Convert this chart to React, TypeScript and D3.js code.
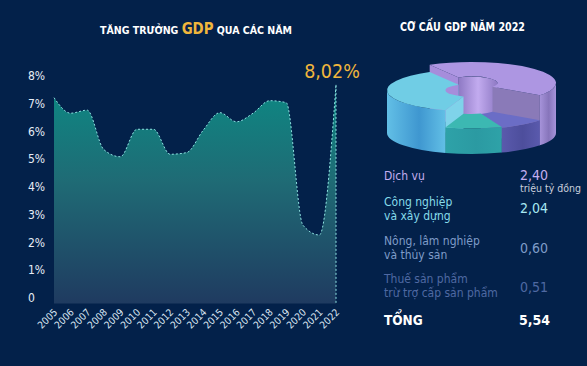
import React from "react";
import * as d3 from "d3";

// GDP growth by year (%)
const years = ["2005", "2006", "2007", "2008", "2009", "2010", "2011", "2012", "2013",
  "2014", "2015", "2016", "2017", "2018", "2019", "2020", "2021", "2022"];
const growth = [7.22, 6.66, 6.77, 5.35, 5.09, 6.08, 6.08, 5.18, 5.24,
  6.05, 6.68, 6.35, 6.66, 7.11, 7.04, 2.63, 2.27, 7.68];
const yTicks = [0, 1, 2, 3, 4, 5, 6, 7, 8];
const lastLabel = "8,02%";

// GDP structure 2022 (triệu tỷ đồng)
const sectorLabels = [
  ["Dịch vụ"],
  ["Công nghiệp", "và xây dựng"],
  ["Nông, lâm nghiệp", "và thủy sản"],
  ["Thuế sản phẩm", "trừ trợ cấp sản phẩm"],
];
const sectorValues = [2.40, 2.04, 0.60, 0.51];
const totalValue = 5.54;

const W = 587, H = 366;
const COND = "'Liberation Sans Narrow','DejaVu Sans Condensed','Roboto Condensed',sans-serif";
const BG = "#03214a";
const GOLD = "#f0b63c";

const vn = d3.formatLocale({ decimal: ",", thousands: ".", grouping: [3], currency: ["", ""] });
const fmt2 = vn.format(".2f");

// slice styles, in the same order as the sectors
const sliceStyle = [
  { top: "#ad96e2", sideA: "#a693da", sideB: "#8775bb", start: "#a68ddb", end: "#8a7ab8", inner: ["#c2abef", "#8e79c4"], text: "#c4aef0", value: "#c4aef0" },
  { top: "#70cde5", sideA: "#62bfe6", sideB: "#3f97d0", start: "#7fd3ea", end: "#5cb5dc", inner: ["#8ad9ee", "#5fb9df"], text: "#86dcea", value: "#a8e8f2" },
  { top: "#3cb8b2", sideA: "#2ea2a8", sideB: "#2b9aa2", start: "#34aaaa", end: "#2a9a9e", inner: ["#3cb8b2", "#2b9aa2"], text: "#7f9cc8", value: "#7f9cc8" },
  { top: "#6b6dc6", sideA: "#5a5aad", sideB: "#4d4e9c", start: "#5e60b4", end: "#56579f", inner: ["#6b6dc6", "#4d4e9c"], text: "#4f69a2", value: "#4f69a2" },
];

// pie geometry
const CX = 471.5, RX = 84.5, RY = 21, BASE = 133, RI = 26;
const K = RY / RX;
const P = (a: number, r: number, y: number) => `${(CX + r * Math.cos(a)).toFixed(2)},${(y + r * K * Math.sin(a)).toFixed(2)}`;
const TAU = Math.PI * 2;

function clip(lo: number, hi: number, A: number, B: number) {
  const out: [number, number][] = [];
  for (let k = -2; k <= 2; k++) {
    const s = Math.max(lo + TAU * k, A), e = Math.min(hi + TAU * k, B);
    if (e - s > 1e-6) out.push([s, e]);
  }
  return out;
}

function Pie3D() {
  const hScale = d3.scalePow().exponent(2).domain([0.5, 2.4]).range([25, 50]);
  const start = (126 * Math.PI) / 180;
  const arcs = d3.pie<number>().sort(null).startAngle(start).endAngle(start - TAU)(sectorValues);

  const slices = arcs.map((a, i) => {
    const lo = Math.min(a.startAngle, a.endAngle) - Math.PI / 2;
    const hi = Math.max(a.startAngle, a.endAngle) - Math.PI / 2;
    return { i, lo, hi, yt: BASE - hScale(a.value), st: sliceStyle[i] };
  });

  // inner walls at the back of the hole go first
  const innerWalls: JSX.Element[] = [];
  slices.forEach((s) => {
    clip(s.lo, s.hi, Math.PI, TAU).forEach(([a0, a1], j) => {
      innerWalls.push(
        <path key={`in${s.i}${j}`} fill={`url(#inner${s.i})`}
          d={`M${P(a0, RI, s.yt)}A${RI},${RI * K} 0 0 1 ${P(a1, RI, s.yt)}L${P(a1, RI, BASE)}A${RI},${RI * K} 0 0 0 ${P(a0, RI, BASE)}Z`} />
      );
    });
  });

  // back slices before front ones
  const order = [...slices].sort((a, b) => Math.sin((a.lo + a.hi) / 2) - Math.sin((b.lo + b.hi) / 2));

  return (
    <g>
      <defs>
        {slices.map((s) => (
          <g key={`g${s.i}`}>
            <linearGradient id={`side${s.i}`} x1="0" x2="1" y1="0" y2="0">
              <stop offset="0" stopColor={s.st.sideA} />
              <stop offset="0.55" stopColor={s.st.sideB} />
              <stop offset="1" stopColor={s.st.sideA} />
            </linearGradient>
            <linearGradient id={`inner${s.i}`} x1="0" x2="1" y1="0" y2="0">
              <stop offset="0" stopColor={s.st.inner[1]} />
              <stop offset="0.5" stopColor={s.st.inner[0]} />
              <stop offset="1" stopColor={s.st.inner[1]} />
            </linearGradient>
          </g>
        ))}
      </defs>
      {innerWalls}
      {order.map((s) => {
        const parts: JSX.Element[] = [];
        const wall = (a: number, fill: string, key: string) => (
          <path key={key} fill={fill}
            d={`M${P(a, RI, s.yt)}L${P(a, RX, s.yt)}L${P(a, RX, BASE)}L${P(a, RI, BASE)}Z`} />
        );
        if (Math.cos(s.lo) < 0) parts.push(wall(s.lo, s.st.start, "ws"));
        if (Math.cos(s.hi) > 0) parts.push(wall(s.hi, s.st.end, "we"));
        clip(s.lo, s.hi, 0, Math.PI).forEach(([a0, a1], j) => {
          parts.push(
            <path key={`o${j}`} fill={`url(#side${s.i})`}
              d={`M${P(a0, RX, s.yt)}A${RX},${RY} 0 0 1 ${P(a1, RX, s.yt)}L${P(a1, RX, BASE)}A${RX},${RY} 0 0 0 ${P(a0, RX, BASE)}Z`} />
          );
        });
        const large = s.hi - s.lo > Math.PI ? 1 : 0;
        parts.push(
          <path key="top" fill={s.st.top}
            d={`M${P(s.lo, RX, s.yt)}A${RX},${RY} 0 ${large} 1 ${P(s.hi, RX, s.yt)}L${P(s.hi, RI, s.yt)}A${RI},${RI * K} 0 ${large} 0 ${P(s.lo, RI, s.yt)}Z`} />
        );
        return <g key={`s${s.i}`}>{parts}</g>;
      })}
    </g>
  );
}

export default function App() {
  const x = d3.scalePoint<string>().domain(years).range([54, 336]);
  const y = d3.scaleLinear().domain([0, 8]).range([298, 76]);
  const pts = years.map((yr, i) => ({ yr, v: growth[i] }));
  const bottom = y(-0.2);
  const area = d3.area<{ yr: string; v: number }>()
    .x((d) => x(d.yr)!).y0(bottom).y1((d) => y(d.v)).curve(d3.curveMonotoneX);
  const line = d3.line<{ yr: string; v: number }>()
    .x((d) => x(d.yr)!).y((d) => y(d.v)).curve(d3.curveMonotoneX);
  const lastX = x(years[years.length - 1])!;
  const lastY = y(growth[growth.length - 1]);

  const rowY = [180, 206, 245, 283];
  const valueY = [180, 213, 253, 292];

  return (
    <svg width={W} height={H} style={{ position: "absolute", left: 0, top: 0, display: "block" }}>
      <defs>
        <linearGradient id="areaFill" gradientUnits="userSpaceOnUse" x1="0" y1="80" x2="0" y2="305">
          <stop offset="0" stopColor="#0c8a84" />
          <stop offset="0.45" stopColor="#1f6b75" />
          <stop offset="1" stopColor="#1f3a60" />
        </linearGradient>
      </defs>
      <rect width={W} height={H} fill={BG} />

      {/* left title */}
      <text x={100} y={33.5} textLength={192} lengthAdjust="spacingAndGlyphs"
        fontFamily={COND} fontWeight="bold" fontSize={11} fill="#ffffff">
        <tspan>TĂNG TRƯỞNG </tspan>
        <tspan fill={GOLD} fontSize={15.5}>GDP</tspan>
        <tspan> QUA CÁC NĂM</tspan>
      </text>

      {/* y axis labels */}
      {yTicks.map((t) => (
        <text key={t} x={28} y={y(t)} dy="0.35em" fontFamily={COND} fontSize={12} fill="#e6edf6">
          {t === 0 ? "0" : `${t}%`}
        </text>
      ))}

      <path d={area(pts)!} fill="url(#areaFill)" />
      <path d={line(pts)!} fill="none" stroke="#8fe2e2" strokeWidth={1} strokeDasharray="2,2" />
      <line x1={lastX} x2={lastX} y1={lastY} y2={bottom} stroke="#8fe2e2" strokeWidth={1} strokeDasharray="2,2" />

      <text x={332} y={78} textAnchor="middle" fontFamily={COND} fontSize={19.5} fill={GOLD}>{lastLabel}</text>

      {/* x axis labels */}
      {years.map((yr) => (
        <text key={yr} transform={`translate(${x(yr)! + 4},313) rotate(-45)`} textAnchor="end"
          fontFamily={COND} fontSize={10} fill="#dbe6f2">{yr}</text>
      ))}

      {/* right title */}
      <text x={400} y={31} textLength={125} lengthAdjust="spacingAndGlyphs"
        fontFamily={COND} fontWeight="bold" fontSize={13} fill="#ffffff">
        CƠ CẤU GDP NĂM 2022
      </text>

      <Pie3D />

      {/* legend table */}
      {sectorLabels.map((lines, i) => (
        <g key={i}>
          <text x={384} y={rowY[i]} fontFamily={COND} fontSize={12} fill={sliceStyle[i].text}>
            {lines.map((l, j) => (
              <tspan key={j} x={384} dy={j === 0 ? 0 : 13.5}>{l}</tspan>
            ))}
          </text>
          <text x={520} y={valueY[i]} fontFamily={COND} fontSize={14} fill={sliceStyle[i].value}>
            {fmt2(sectorValues[i])}
          </text>
        </g>
      ))}
      <text x={520} y={192} fontFamily={COND} fontSize={10.5} fill="#c9cfdc">triệu tỷ đồng</text>
      <text x={384} y={325} fontFamily={COND} fontWeight="bold" fontSize={13.5} fill="#ffffff">TỔNG</text>
      <text x={519} y={325} fontFamily={COND} fontWeight="bold" fontSize={14} fill="#ffffff">{fmt2(totalValue)}</text>
    </svg>
  );
}
